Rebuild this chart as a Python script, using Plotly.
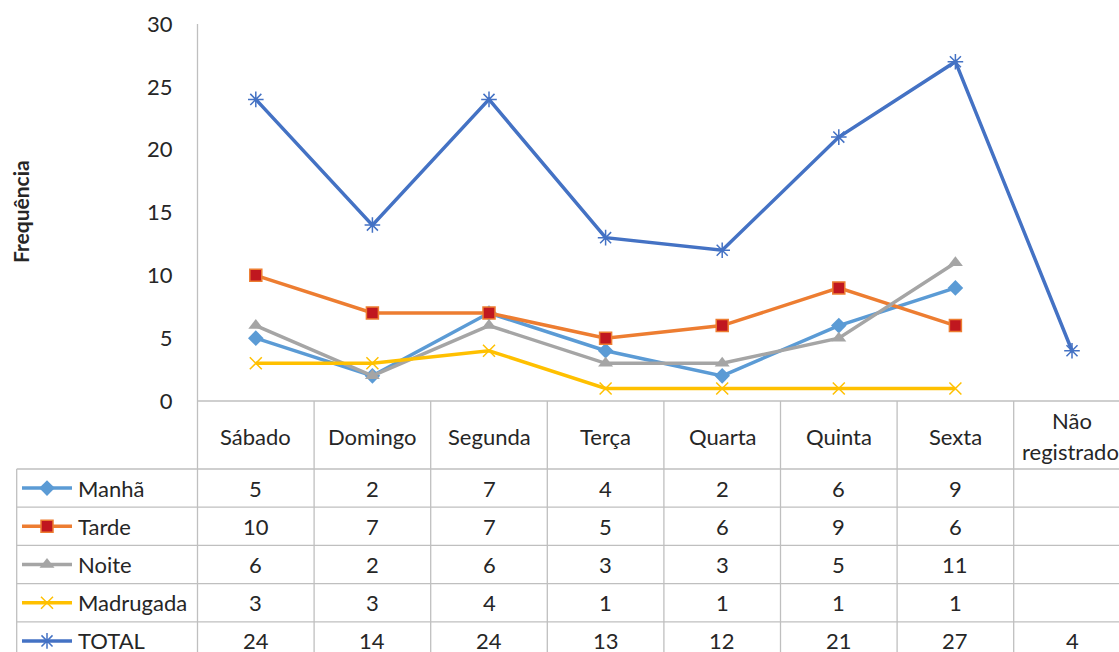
import plotly.graph_objects as go

categories = ["Sábado", "Domingo", "Segunda", "Terça", "Quarta", "Quinta", "Sexta", "Não registrado"]
manha = [5, 2, 7, 4, 2, 6, 9, None]
tarde = [10, 7, 7, 5, 6, 9, 6, None]
noite = [6, 2, 6, 3, 3, 5, 11, None]
madrugada = [3, 3, 4, 1, 1, 1, 1, None]
total = [24, 14, 24, 13, 12, 21, 27, 4]
y_ticks = [0, 5, 10, 15, 20, 25, 30]

W, H = 1119, 652
FONT = "Lato"
TXT = "#262626"
GRID = "#BFBFBF"

# layout geometry (page pixels)
x0 = 197.5          # left of plot area
cw = 116.6          # category width
y_top = 24
y_axis = 401
header_bot = 469
row_h = 38.2
leg_left = 16.7

series = [
    dict(name="Manhã", y=manha, color="#5B9BD5",
         marker=dict(symbol="diamond", size=12, color="#5B9BD5")),
    dict(name="Tarde", y=tarde, color="#ED7D31",
         marker=dict(symbol="square", size=12, color="#C0171F",
                     line=dict(color="#ED7D31", width=1.5))),
    dict(name="Noite", y=noite, color="#A5A5A5",
         marker=dict(symbol="triangle-up", size=13, color="#A5A5A5")),
    dict(name="Madrugada", y=madrugada, color="#FFC000",
         marker=dict(symbol="x-thin-open", size=12, color="#FFC000",
                     line=dict(color="#FFC000", width=1.5))),
    dict(name="TOTAL", y=total, color="#4472C4",
         marker=dict(symbol="asterisk-open", size=13, color="#4472C4",
                     line=dict(color="#4472C4", width=1.5))),
]

xi = list(range(len(categories)))
fig = go.Figure()
for s in series:
    fig.add_trace(go.Scatter(x=xi, y=s["y"], mode="lines+markers", name=s["name"],
                             line=dict(color=s["color"], width=3.5),
                             marker=s["marker"], connectgaps=False,
                             xaxis="x", yaxis="y", showlegend=False))

x_end = -0.5 + (W - x0) / cw

def row_center(r):
    return header_bot + (r + 0.5) * row_h

# legend swatches in table (pixel overlay axis x2/y2)
for r, s in enumerate(series):
    yc = row_center(r)
    fig.add_trace(go.Scatter(x=[22, 72], y=[yc, yc], mode="lines",
                             line=dict(color=s["color"], width=3.5),
                             xaxis="x2", yaxis="y2", showlegend=False, hoverinfo="skip"))
    fig.add_trace(go.Scatter(x=[47], y=[yc], mode="markers", marker=s["marker"],
                             xaxis="x2", yaxis="y2", showlegend=False, hoverinfo="skip"))

lw = 1.3
shapes = []
shapes.append(dict(type="line", xref="x2", yref="y2", x0=x0, x1=x0, y0=y_top, y1=H,
                   line=dict(color=GRID, width=lw)))
shapes.append(dict(type="line", xref="x2", yref="y2", x0=x0, x1=W, y0=y_axis, y1=y_axis,
                   line=dict(color=GRID, width=lw)))
for r in range(len(series)):
    yl = header_bot + r * row_h
    shapes.append(dict(type="line", xref="x2", yref="y2", x0=leg_left, x1=W, y0=yl, y1=yl,
                       line=dict(color=GRID, width=lw)))
shapes.append(dict(type="line", xref="x2", yref="y2", x0=leg_left, x1=leg_left, y0=header_bot, y1=H,
                   line=dict(color=GRID, width=lw)))
for i in range(1, len(categories)):
    xb = x0 + i * cw
    shapes.append(dict(type="line", xref="x2", yref="y2", x0=xb, x1=xb, y0=y_axis, y1=H,
                       line=dict(color=GRID, width=lw)))

ann = []
fs = 22
for i, c in enumerate(categories):
    xc = x0 + (i + 0.5) * cw
    if c == "Não registrado":
        ann.append(dict(x=xc, y=420, text="Não", xref="x2", yref="y2", showarrow=False,
                        font=dict(size=fs, color=TXT, family=FONT)))
        ann.append(dict(x=xc - 2, y=451, text="registrado", xref="x2", yref="y2", showarrow=False,
                        font=dict(size=fs, color=TXT, family=FONT)))
    else:
        ann.append(dict(x=xc, y=436, text=c, xref="x2", yref="y2", showarrow=False,
                        font=dict(size=fs, color=TXT, family=FONT)))
for r, s in enumerate(series):
    yc = row_center(r)
    ann.append(dict(x=76, y=yc, text=s["name"], xref="x2", yref="y2", showarrow=False,
                    xanchor="left", font=dict(size=fs, color=TXT, family=FONT)))
    for i, v in enumerate(s["y"]):
        if v is None:
            continue
        xc = x0 + (i + 0.5) * cw
        ann.append(dict(x=xc, y=yc, text=str(v), xref="x2", yref="y2", showarrow=False,
                        font=dict(size=fs, color=TXT, family=FONT)))
ann.append(dict(x=20, y=212, text="<b>Frequência</b>", xref="x2", yref="y2", showarrow=False,
                textangle=-90, font=dict(size=21, color=TXT, family=FONT)))

fig.update_layout(
    width=W, height=H,
    margin=dict(l=0, r=0, t=0, b=0, pad=0, autoexpand=False),
    paper_bgcolor="white", plot_bgcolor="rgba(0,0,0,0)",
    xaxis=dict(domain=[x0 / W, 1], range=[-0.5, x_end], showticklabels=False,
               showgrid=False, zeroline=False, showline=False, ticks="", automargin=False),
    yaxis=dict(domain=[(H - y_axis) / H, (H - y_top) / H], range=[0, 30],
               tickvals=y_ticks, showgrid=False, zeroline=False, showline=False,
               ticks="", ticklabelstandoff=24, automargin=False,
               tickfont=dict(size=22, color=TXT, family=FONT)),
    xaxis2=dict(domain=[0, 1], range=[0, W], visible=False, fixedrange=True, automargin=False),
    yaxis2=dict(domain=[0, 1], range=[H, 0], visible=False, fixedrange=True, anchor="x2",
                automargin=False),
    shapes=shapes, annotations=ann, showlegend=False,
)
fig.write_html("out.html", config={"displayModeBar": False},
               post_script="document.body.style.margin='0';document.body.style.overflow='hidden';")
